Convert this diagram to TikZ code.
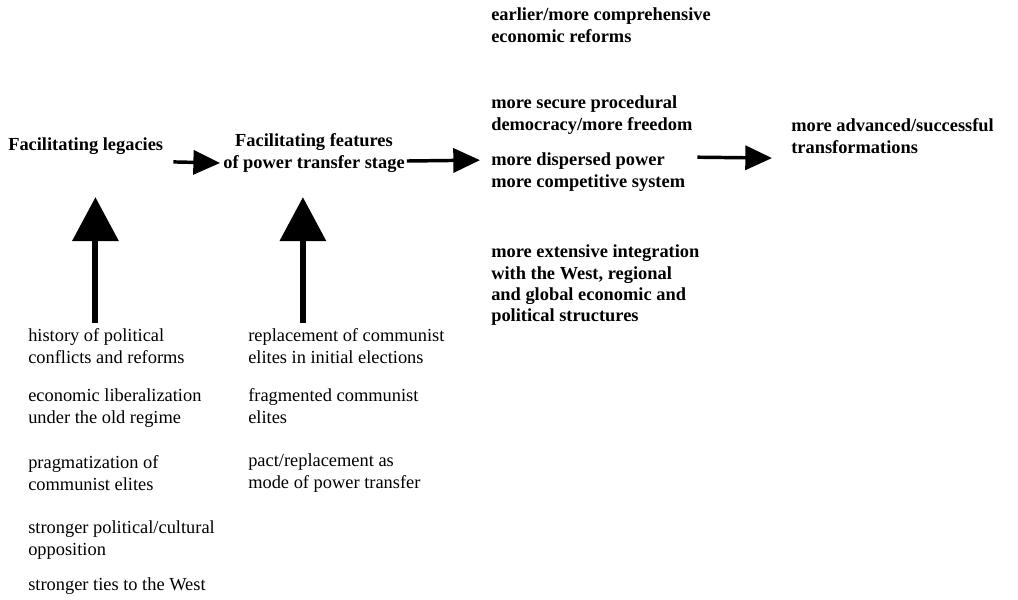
\documentclass[tikz,border=0pt]{standalone}
\usepackage{fontspec}
\setmainfont{Liberation Serif}
\usetikzlibrary{arrows.meta}

\tikzset{
    every node/.style={inner sep=0pt, font=\fontsize{13.8pt}{16.1pt}\selectfont},
    stage/.style={align=left, anchor=north west, font=\fontsize{13.8pt}{16.1pt}\selectfont\bfseries},
    factor/.style={align=left, anchor=north west},
    flowarrow/.style={-{Triangle[length=20pt,width=18pt]}, line width=2.6pt},
    feedarrow/.style={-{Triangle[length=33pt,width=34pt]}, line width=4.5pt}
}

\begin{document}
\begin{tikzpicture}[x=0.75pt, y=-0.75pt]

    \useasboundingbox (0,0) rectangle (1018,600);

    % Nodes
    \node (legacies) [stage, anchor=base west] at (8,150) {Facilitating legacies};
    \node (features) [stage, align=center, anchor=north] at (314,133.5)
          {Facilitating features\\of power transfer stage};

    \node (reforms)     [stage] at (491,7.5)   {earlier/more comprehensive\\economic reforms};
    \node (secure)      [stage] at (491,95.5)  {more secure procedural\\democracy/more freedom};
    \node (dispersed)   [stage] at (491,152.5) {more dispersed power\\more competitive system};
    \node (integration) [stage] at (491,244.5)
          {more extensive integration\\with the West, regional\\and global economic and\\political structures};
    \node (outcome)     [stage] at (791,118.5) {more advanced/successful\\transformations};

    \node (hist) [factor] at (28,328.5) {history of political\\conflicts and reforms};
    \node (econ) [factor] at (28,388.5) {economic liberalization\\under the old regime};
    \node (prag) [factor] at (28,455.5) {pragmatization of\\communist elites};
    \node (opp)  [factor] at (28,520.5) {stronger political/cultural\\opposition};
    \node (ties) [factor] at (28,577.5) {stronger ties to the West};

    \node (repl) [factor] at (248,328.5) {replacement of communist\\elites in initial elections};
    \node (frag) [factor] at (248,388.5) {fragmented communist\\elites};
    \node (pact) [factor] at (248,453.5) {pact/replacement as\\mode of power transfer};

    % Arrows
    \draw[flowarrow] ([xshift=7.5pt,yshift=-12.2pt]legacies.east)
                  -- ([xshift=-2.25pt,yshift=-7.5pt]features.west);
    \draw[flowarrow] ([xshift=1.5pt,yshift=-6pt]features.east)
                  -- ([xshift=-8.25pt,yshift=8.8pt]dispersed.west);
    \draw[flowarrow] ([xshift=9pt,yshift=11pt]dispersed.east)
                  -- ([xshift=-14.25pt,yshift=-16.5pt]outcome.west);

    \draw[feedarrow] ([xshift=-8.25pt,yshift=4pt]hist.north) -- ++(0,-126);
    \draw[feedarrow] ([xshift=-32.6pt,yshift=4pt]repl.north) -- ++(0,-126);

\end{tikzpicture}
\end{document}
